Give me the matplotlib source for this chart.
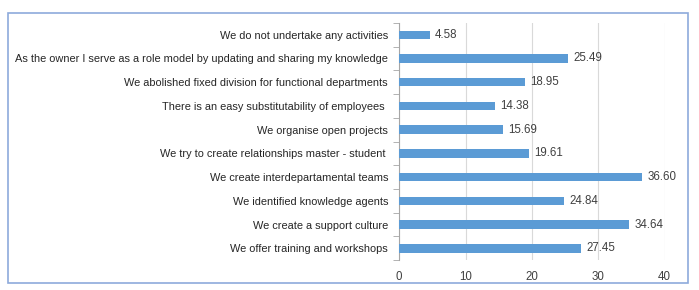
import matplotlib
matplotlib.use("Agg")
import matplotlib.pyplot as plt
import numpy as np
from matplotlib.patches import Rectangle

categories = [
    "We do not undertake any activities",
    "As the owner I serve as a role model by updating and sharing my knowledge",
    "We abolished fixed division for functional departments",
    "There is an easy substitutability of employees ",
    "We organise open projects",
    "We try to create relationships master - student ",
    "We create interdepartamental teams",
    "We identified knowledge agents",
    "We create a support culture",
    "We offer training and workshops",
]
values = [4.58, 25.49, 18.95, 14.38, 15.69, 19.61, 36.60, 24.84, 34.64, 27.45]
xticks = [0, 10, 20, 30, 40]

plt.rcParams['font.family'] = ['Liberation Sans', 'DejaVu Sans']
fig = plt.figure(figsize=(6.99, 2.90), dpi=100)
fig.patch.set_facecolor('white')
fig.patches.append(Rectangle((0.0114, 0.024), 0.973, 0.931, transform=fig.transFigure,
                             fill=False, edgecolor='#8eaadb', linewidth=1.2))
ax = fig.add_axes([0.571, 0.103, 0.380, 0.818])
y = np.arange(len(categories))
bars = ax.barh(y, values, height=0.36, color='#5b9bd5', zorder=3)
ax.set_ylim(len(categories) - 0.5, -0.5)
ax.set_xlim(0, 40)
ax.set_xticks(xticks)
ax.set_xticklabels([str(t) for t in xticks], fontsize=8.3, color='#404040')
ax.set_yticks(y)
ax.set_yticklabels(categories, fontsize=7.9, color='#262626')
ax.tick_params(axis='y', length=0, pad=8)
ax.tick_params(axis='x', length=0, pad=8)
ax.set_yticks(np.arange(-0.5, len(categories), 1), minor=True)
ax.tick_params(axis='y', which='minor', length=4, color='#a6a6a6', direction='out')
ax.grid(axis='x', color='#d9d9d9', linewidth=0.8, zorder=0)
for s in ['top', 'right', 'bottom']:
    ax.spines[s].set_visible(False)
ax.spines['left'].set_color('#a6a6a6')
for yi, v in zip(y, values):
    ax.text(v + 0.8, yi, f"{v:.2f}", va='center', ha='left', fontsize=8.3, color='#404040')
fig.savefig("out.png", dpi=100)
